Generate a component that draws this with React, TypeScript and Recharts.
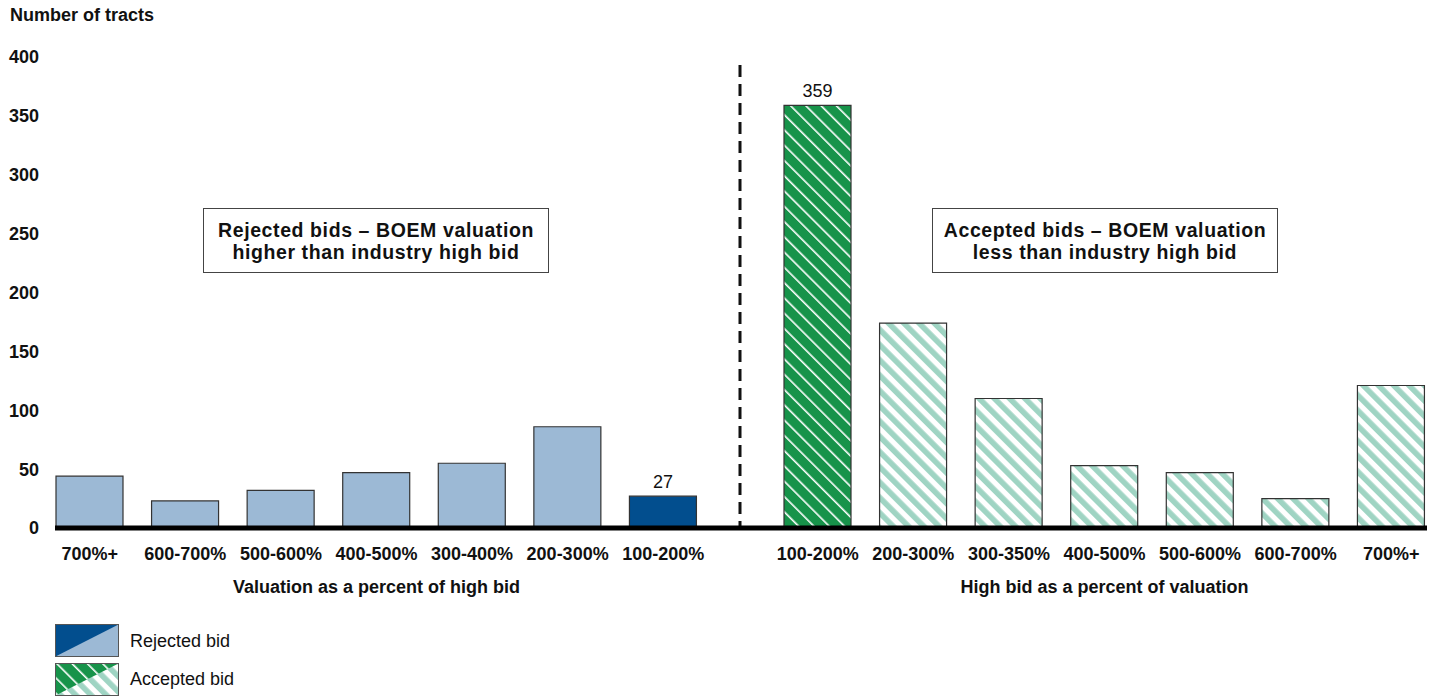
import React from "react";
import { BarChart, Bar, XAxis, YAxis, Cell, LabelList } from "recharts";

const rejectedCategories = ["700%+", "600-700%", "500-600%", "400-500%", "300-400%", "200-300%", "100-200%"];
const rejectedTracts = [44, 23, 32, 47, 55, 86, 27];
const acceptedCategories = ["100-200%", "200-300%", "300-350%", "400-500%", "500-600%", "600-700%", "700%+"];
const acceptedTracts = [359, 174, 110, 53, 47, 25, 121];
const yTicks = [0, 50, 100, 150, 200, 250, 300, 350, 400];

// which bar in each panel carries the value label (the dark one)
const rejectedHighlight = 6;
const acceptedHighlight = 0;

const FONT = "'Liberation Sans', Arial, Helvetica, sans-serif";
const LIGHT_BLUE = "#9cb9d5";
const DARK_BLUE = "#024e8e";
const DARK_GREEN = "#17934a";
const LIGHT_TEAL = "#9fd4c3";
const BAR_STROKE = "#333";

const rejectedData = rejectedCategories.map((c, i) => ({ category: c, tracts: rejectedTracts[i] }));
const acceptedData = acceptedCategories.map((c, i) => ({ category: c, tracts: acceptedTracts[i] }));

const tickStyle = { fill: "#111", fontSize: 18, fontWeight: 700, fontFamily: FONT };

function HatchDefs({ prefix }: { prefix: string }) {
  return (
    <defs>
      <pattern id={`${prefix}-dark`} patternUnits="userSpaceOnUse" width="10.8" height="10.8" patternTransform="rotate(-45)">
        <rect width="10.8" height="10.8" fill={DARK_GREEN} />
        <rect x="0" width="1.6" height="10.8" fill="#fff" />
      </pattern>
      <pattern id={`${prefix}-light`} patternUnits="userSpaceOnUse" width="10.8" height="10.8" patternTransform="rotate(-45)">
        <rect width="10.8" height="10.8" fill="#fff" />
        <rect x="0" width="5.6" height="10.8" fill={LIGHT_TEAL} />
      </pattern>
    </defs>
  );
}

function makeTopLabel(highlight: number) {
  return (props: any) => {
    const { x, y, width, value, index } = props;
    if (index !== highlight) return null;
    return (
      <text x={x + width / 2} y={y - 8} textAnchor="middle" fill="#111" fontSize={18} fontFamily={FONT}>
        {value}
      </text>
    );
  };
}

const boxStyle: React.CSSProperties = {
  position: "absolute",
  top: 208,
  width: 344,
  height: 63,
  border: "1px solid #444",
  background: "#fff",
  display: "flex",
  alignItems: "center",
  justifyContent: "center",
  textAlign: "center",
  fontFamily: FONT,
  fontWeight: 700,
  fontSize: 19.5,
  lineHeight: "22px",
  letterSpacing: 0.6,
  color: "#111",
};

export default function App() {
  return (
    <div style={{ position: "absolute", left: 0, top: 0, width: 1440, height: 696, background: "#fff", overflow: "hidden", fontFamily: FONT }}>
      <div style={{ position: "absolute", left: 10, top: 5, fontSize: 18, fontWeight: 700, color: "#111" }}>Number of tracts</div>

      {/* rejected bids panel */}
      <div style={{ position: "absolute", left: 0, top: 0 }}>
        <BarChart width={720} height={696} data={rejectedData} margin={{ top: 57, right: 9, bottom: 0, left: 0 }}>
          <YAxis
            domain={[0, 400]}
            ticks={yTicks}
            width={42}
            axisLine={false}
            tickLine={false}
            tickSize={0}
            tickMargin={3}
            tick={tickStyle}
            interval={0}
          />
          <XAxis
            dataKey="category"
            height={168}
            axisLine={false}
            tickLine={false}
            tickSize={0}
            tickMargin={19}
            tick={tickStyle}
            interval={0}
            label={{ value: "Valuation as a percent of high bid", position: "insideTop", offset: 52, style: tickStyle }}
          />
          <Bar dataKey="tracts" barSize={67} stroke={BAR_STROKE} strokeWidth={1.2} isAnimationActive={false}>
            {rejectedData.map((d, i) => (
              <Cell key={d.category} fill={i === rejectedHighlight ? DARK_BLUE : LIGHT_BLUE} />
            ))}
            <LabelList dataKey="tracts" content={makeTopLabel(rejectedHighlight)} />
          </Bar>
        </BarChart>
      </div>

      {/* accepted bids panel */}
      <div style={{ position: "absolute", left: 760, top: 0 }}>
        <BarChart width={680} height={696} data={acceptedData} margin={{ top: 57, right: 1, bottom: 0, left: 10 }}>
          <HatchDefs prefix="acc" />
          <YAxis domain={[0, 400]} ticks={yTicks} hide />
          <XAxis
            dataKey="category"
            height={168}
            axisLine={false}
            tickLine={false}
            tickSize={0}
            tickMargin={19}
            tick={tickStyle}
            interval={0}
            label={{ value: "High bid as a percent of valuation", position: "insideTop", offset: 52, style: tickStyle }}
          />
          <Bar dataKey="tracts" barSize={67} stroke={BAR_STROKE} strokeWidth={1.2} isAnimationActive={false}>
            {acceptedData.map((d, i) => (
              <Cell key={d.category} fill={i === acceptedHighlight ? "url(#acc-dark)" : "url(#acc-light)"} />
            ))}
            <LabelList dataKey="tracts" content={makeTopLabel(acceptedHighlight)} />
          </Bar>
        </BarChart>
      </div>

      {/* baseline and divider */}
      <svg width={1440} height={696} style={{ position: "absolute", left: 0, top: 0, pointerEvents: "none" }}>
        <line x1={740} x2={740} y1={65} y2={528} stroke="#111" strokeWidth={3} strokeDasharray="12 7" />
        <line x1={55} x2={1427} y1={528} y2={528} stroke="#000" strokeWidth={5} />
      </svg>

      <div style={{ ...boxStyle, left: 203 }}>
        Rejected bids – BOEM valuation
        <br />
        higher than industry high bid
      </div>
      <div style={{ ...boxStyle, left: 932 }}>
        Accepted bids – BOEM valuation
        <br />
        less than industry high bid
      </div>

      {/* legend */}
      <div style={{ position: "absolute", left: 55, top: 624 }}>
        <svg width={64} height={33} style={{ display: "block" }}>
          <rect x={0.5} y={0.5} width={63} height={32} fill={LIGHT_BLUE} />
          <polygon points="0.5,32.5 63.5,0.5 0.5,0.5" fill={DARK_BLUE} />
          <rect x={0.5} y={0.5} width={63} height={32} fill="none" stroke="#555" strokeWidth={1} />
        </svg>
      </div>
      <div style={{ position: "absolute", left: 130, top: 631, fontSize: 18, color: "#111" }}>Rejected bid</div>
      <div style={{ position: "absolute", left: 55, top: 663 }}>
        <svg width={64} height={33} style={{ display: "block" }}>
          <HatchDefs prefix="leg" />
          <rect x={0.5} y={0.5} width={63} height={32} fill="url(#leg-light)" />
          <polygon points="0.5,32.5 63.5,0.5 0.5,0.5" fill="url(#leg-dark)" />
          <rect x={0.5} y={0.5} width={63} height={32} fill="none" stroke="#555" strokeWidth={1} />
        </svg>
      </div>
      <div style={{ position: "absolute", left: 130, top: 669, fontSize: 18, color: "#111" }}>Accepted bid</div>
    </div>
  );
}
